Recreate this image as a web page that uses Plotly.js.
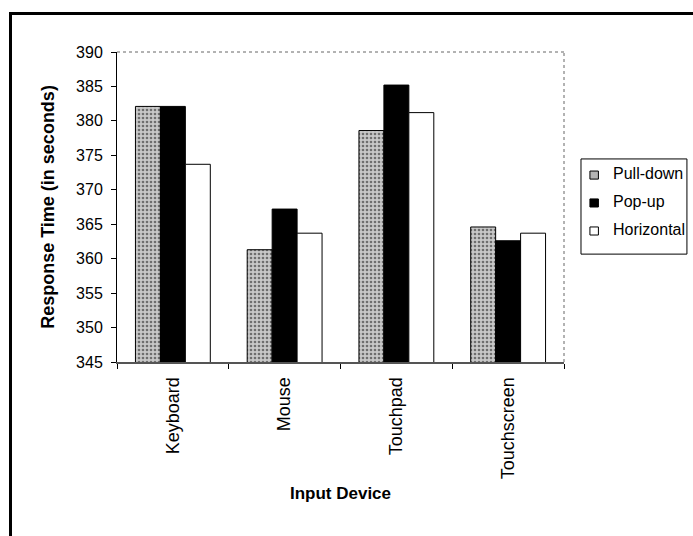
<!DOCTYPE html>
<html>
<head>
<meta charset="utf-8">
<script src="https://cdn.plot.ly/plotly-3.0.1.min.js"></script>
<style>
html,body{margin:0;padding:0;background:#fff;}
#frame{position:absolute;left:9px;top:12px;width:690px;height:530px;border-left:3px solid #000;border-top:3px solid #000;}
#chart{position:absolute;left:0;top:0;width:693px;height:536px;}
</style>
</head>
<body>
<div id="frame"></div>
<div id="chart"></div>
<script>
const devices = ["Keyboard", "Mouse", "Touchpad", "Touchscreen"];
const pullDown = [382.1, 361.3, 378.6, 364.6];
const popUp = [382.1, 367.2, 385.2, 362.6];
const horizontal = [373.7, 363.7, 381.2, 363.7];
const seriesNames = ["Pull-down", "Pop-up", "Horizontal"];
const yTicks = [345, 350, 355, 360, 365, 370, 375, 380, 385, 390];

const FONT = "Arial, 'Liberation Sans', sans-serif";
const outline = {color: "#000", width: 1};
const fills = ["#b4b4b4", "#000", "#fff"];

const traces = [
  {type: "bar", name: seriesNames[0], x: devices, y: pullDown,
   marker: {color: fills[0], line: outline,
            pattern: {shape: ".", fgcolor: "#6e6e6e", bgcolor: "#c8c8c8", size: 4, solidity: 0.35}}},
  {type: "bar", name: seriesNames[1], x: devices, y: popUp,
   marker: {color: fills[1], line: outline}},
  {type: "bar", name: seriesNames[2], x: devices, y: horizontal,
   marker: {color: fills[2], line: outline}}
];

// custom legend (box, swatches, labels) in paper coordinates
const shapes = [
  {type: "line", xref: "paper", yref: "paper", x0: 0, x1: 1, y0: 1, y1: 1,
   line: {color: "#666", width: 1, dash: "dot"}},
  {type: "line", xref: "paper", yref: "paper", x0: 1, x1: 1, y0: 0, y1: 1,
   line: {color: "#666", width: 1, dash: "dot"}},
  {type: "rect", xref: "paper", yref: "paper", x0: 1.038, x1: 1.275, y0: 0.348, y1: 0.655,
   line: {color: "#000", width: 1}, fillcolor: "#fff", layer: "above"}
];
const annotations = [];
const rowY = [0.603, 0.513, 0.4226];
seriesNames.forEach((nm, i) => {
  shapes.push({type: "rect", xref: "paper", yref: "paper",
    x0: 1.058, x1: 1.077, y0: rowY[i] - 0.013, y1: rowY[i] + 0.013,
    line: {color: "#000", width: 1}, fillcolor: fills[i], layer: "above"});
  annotations.push({xref: "paper", yref: "paper", x: 1.105, y: rowY[i] + 0.006,
    xanchor: "left", yanchor: "middle", text: nm, showarrow: false,
    font: {family: FONT, size: 16, color: "#000"}});
});

const layout = {
  width: 693, height: 536,
  margin: {l: 117, r: 129, t: 52, b: 174, autoexpand: false},
  paper_bgcolor: "rgba(0,0,0,0)",
  plot_bgcolor: "#fff",
  font: {family: FONT, size: 15, color: "#000"},
  barmode: "group",
  bargap: 0.33,
  bargroupgap: 0,
  showlegend: false,
  xaxis: {
    type: "category",
    tickangle: -90,
    ticks: "outside", ticklen: 5, tickcolor: "#000",
    tickson: "boundaries",
    ticklabelstandoff: 6,
    showline: true, linecolor: "#555", linewidth: 2,
    showgrid: false, zeroline: false, automargin: false,
    tickfont: {family: FONT, size: 18},
    title: {text: "Input Device", font: {family: FONT, size: 17, weight: "bold"}, standoff: 9}
  },
  yaxis: {
    range: [345, 390],
    tickvals: yTicks,
    ticks: "outside", ticklen: 5, tickcolor: "#000",
    ticklabelstandoff: 5,
    showline: true, linecolor: "#000", linewidth: 1,
    showgrid: false, zeroline: false, automargin: false,
    tickfont: {family: FONT, size: 16},
    title: {text: "Response Time (in seconds)", font: {family: FONT, size: 18, weight: "bold"}, standoff: 16}
  },
  shapes: shapes,
  annotations: annotations
};

Plotly.newPlot("chart", traces, layout, {displayModeBar: false, staticPlot: true});
</script>
</body>
</html>
